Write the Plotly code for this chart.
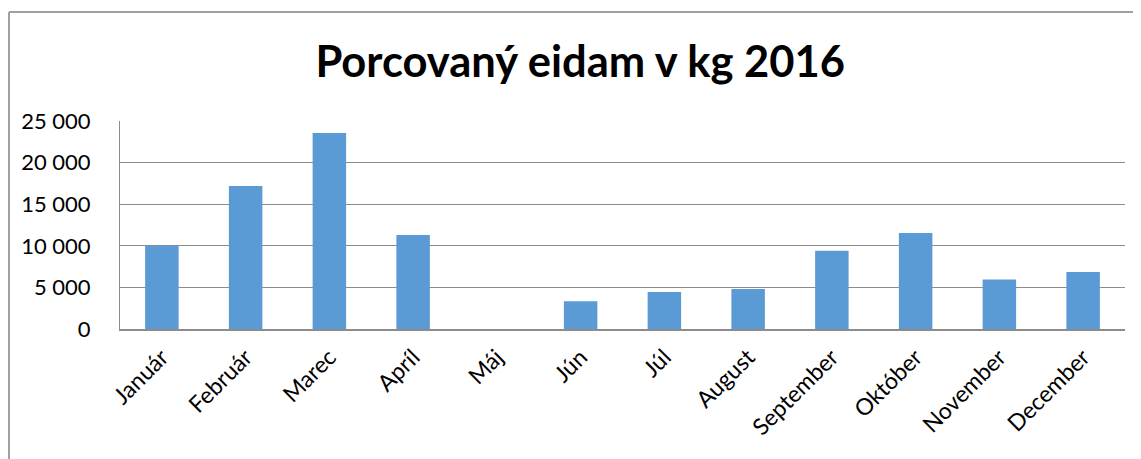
import plotly.graph_objects as go

months = ["Január", "Február", "Marec", "Apríl", "Máj", "Jún", "Júl",
          "August", "September", "Október", "November", "December"]
values = [10000, 17200, 23550, 11300, 0, 3350, 4450, 4800, 9400, 11550, 5950, 6850]
y_ticks = [0, 5000, 10000, 15000, 20000, 25000]
title_text = "Porcovaný eidam v kg 2016"

# the page body adds an 8px offset; figure is sized to the remaining area
W, H = 1133, 451
L, R, T, B = 112, 16, 113, 130
pw, ph = W - L - R, H - T - B

fig = go.Figure(go.Bar(x=months, y=values, marker_color="#5B9BD5",
                       marker_line_width=0))

font = "Lato, 'Open Sans', sans-serif"
fig.update_layout(
    width=W, height=H,
    margin=dict(l=L, r=R, t=T, b=B, autoexpand=False),
    paper_bgcolor="white", plot_bgcolor="white",
    separators=", ",
    bargap=0.6,
    showlegend=False,
    font=dict(family=font, color="black", size=22),
    title=dict(text="<b>" + title_text + "</b>", x=0.505, xanchor="center",
               xref="container", y=1 - 54 / H, yanchor="middle",
               yref="container",
               font=dict(family=font, size=43.5, color="black")),
    xaxis=dict(showline=True, linecolor="#8c8c8c", linewidth=1.5,
               tickangle=-45, ticks="", showgrid=False, automargin=False,
               ticklabelstandoff=4,
               tickfont=dict(size=23)),
    yaxis=dict(range=[0, 25000], tickvals=y_ticks, tickformat=",d",
               showgrid=True, gridcolor="#8c8c8c", gridwidth=1,
               showline=True, linecolor="#8c8c8c", linewidth=1,
               ticks="", automargin=False, ticklabelstandoff=24,
               zeroline=False, tickfont=dict(size=22)),
)

# outer chart border (left and top)
x0 = (1 - L) / pw
y0 = (H - B - 4) / ph
fig.add_shape(type="line", xref="paper", yref="paper",
              x0=x0, x1=x0, y0=y0, y1=-B / ph - 0.1,
              line=dict(color="#a0a0a0", width=2))
fig.add_shape(type="line", xref="paper", yref="paper",
              x0=x0, x1=(W - L) / pw + 0.05, y0=y0, y1=y0,
              line=dict(color="#a0a0a0", width=2))

fig.write_html("out.html")
